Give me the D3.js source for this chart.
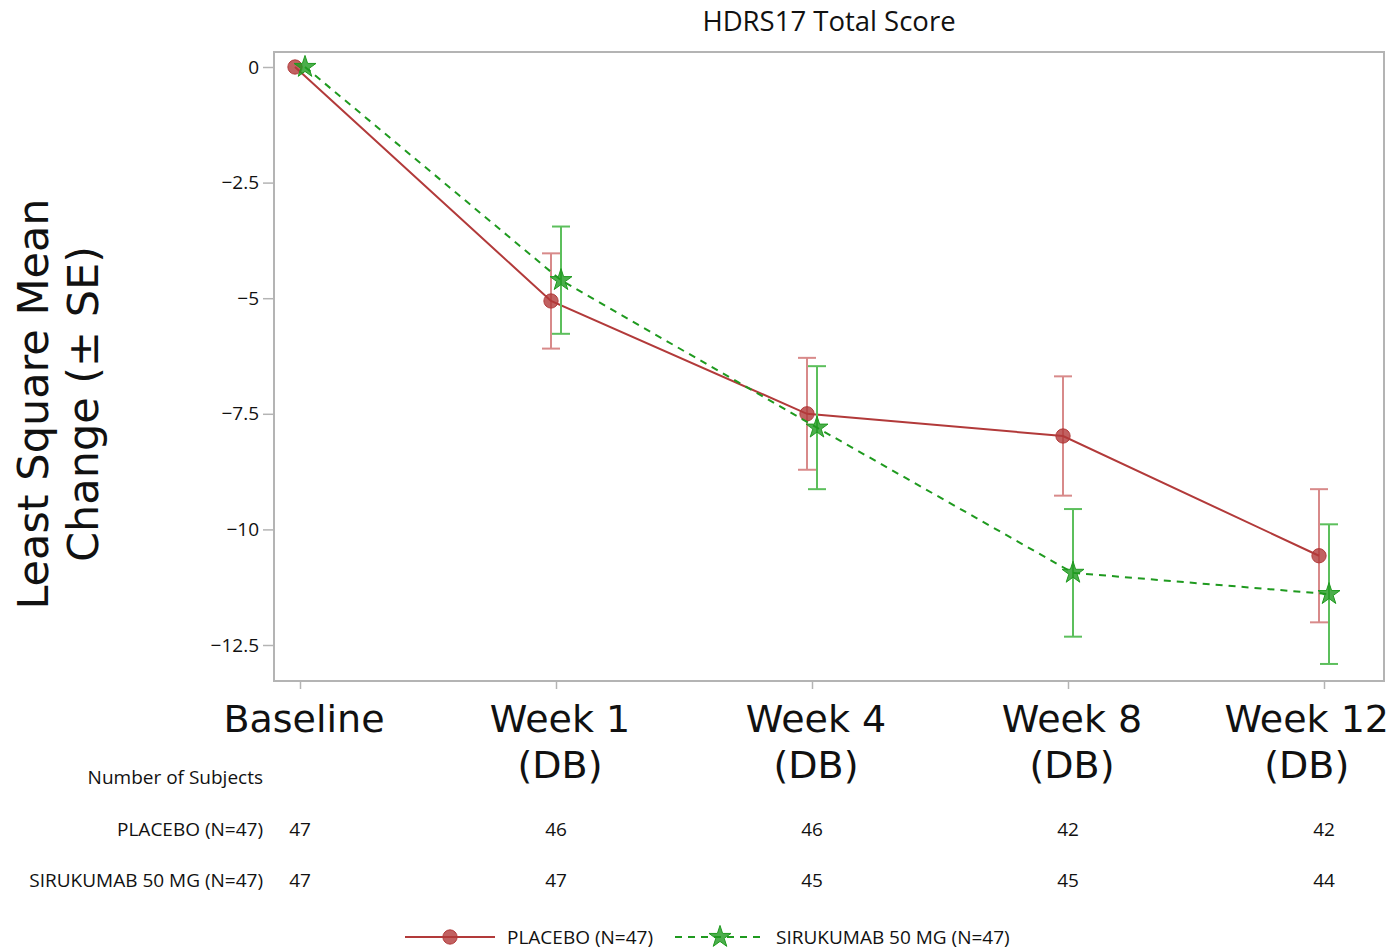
<!DOCTYPE html>
<html>
<head>
<meta charset="utf-8">
<script src="https://cdn.jsdelivr.net/npm/d3@7"></script>
<style>
  body { margin: 0; background: #fff; }
  svg text { fill: #111; }
</style>
</head>
<body>
<svg id="chart" width="1392" height="950"></svg>
<script>
const visits = ['Baseline', 'Week 1\n(DB)', 'Week 4\n(DB)', 'Week 8\n(DB)', 'Week 12\n(DB)'];
const placeboMean = [0, -5.06, -7.5, -7.98, -10.57];
const placeboSE = [0, 1.03, 1.21, 1.29, 1.44];
const siruMean = [0, -4.61, -7.8, -10.94, -11.4];
const siruSE = [0, 1.16, 1.33, 1.38, 1.51];
const yTicks = [0, -2.5, -5, -7.5, -10, -12.5];
const placeboN = [47, 46, 46, 42, 42];
const siruN = [47, 47, 45, 45, 44];
const groupNames = ['PLACEBO (N=47)', 'SIRUKUMAB 50 MG (N=47)'];

const red = '#b23a3a', redLight = '#d88a8a';
const green = '#1f9a1f', greenLight = '#5cbf5c';
const narrow = "'Liberation Sans Narrow', 'Open Sans', sans-serif";
const big = "'DejaVu Sans', Verdana, sans-serif";

const svg = d3.select('#chart');
const frame = {left: 274, right: 1384, top: 52, bottom: 681};

const x = d3.scalePoint().domain(visits).range([300, 1324]);
const y = d3.scaleLinear().domain([-12.5, 0]).range([645, 67]);
const off = 5;

// title
svg.append('text').attr('x', 829).attr('y', 31).attr('text-anchor', 'middle')
  .style('font-family', narrow).style('font-size', '27.5px').text('HDRS17 Total Score');

// frame
svg.append('rect').attr('x', frame.left).attr('y', frame.top)
  .attr('width', frame.right - frame.left).attr('height', frame.bottom - frame.top)
  .attr('fill', 'none').attr('stroke', '#b4b4b4').attr('stroke-width', 2);

// y axis
const yAxis = svg.append('g').attr('transform', `translate(${frame.left},0)`)
  .call(d3.axisLeft(y).tickValues(yTicks).tickSize(11).tickPadding(4)
    .tickFormat(d => d3.format('')(d).replace('-', '\u2212')));
yAxis.select('.domain').remove();
yAxis.selectAll('line').attr('stroke', '#b4b4b4').attr('stroke-width', 1.5);
yAxis.selectAll('text').style('font-family', narrow).style('font-size', '19px').attr('fill', '#111');

// x axis
const xAxis = svg.append('g').attr('transform', `translate(0,${frame.bottom})`)
  .call(d3.axisBottom(x).tickSize(8).tickFormat(''));
xAxis.select('.domain').remove();
xAxis.selectAll('line').attr('stroke', '#b4b4b4').attr('stroke-width', 1.5);
visits.forEach(v => {
  const lines = v.split('\n');
  const t = svg.append('text').attr('y', 732).attr('text-anchor', 'middle')
    .style('font-family', big).style('font-size', '38px');
  const spans = lines.map((l, i) => t.append('tspan').attr('x', x(v) + 4).attr('dy', i ? 46 : 0).text(l));
  const bb = t.node().getBBox();
  const over = bb.x + bb.width - 1389;
  if (over > 0) spans.forEach(s => s.attr('x', x(v) + 4 - over));
});

// y label
const yl = svg.append('text').attr('transform', 'translate(48,404) rotate(-90)')
  .attr('text-anchor', 'middle').style('font-family', big).style('font-size', '43px');
yl.append('tspan').attr('x', 0).attr('dy', 0).text('Least Square Mean');
yl.append('tspan').attr('x', 0).attr('dy', 50).text('Change (\u00b1 SE)');

const series = [
  {mean: placeboMean, se: placeboSE, dx: -off, color: red, light: redLight, dash: null, sym: d3.symbolCircle, size: 160},
  {mean: siruMean, se: siruSE, dx: off, color: green, light: greenLight, dash: '7,6', sym: d3.symbolStar, size: 150}
];

series.forEach(s => {
  const pts = visits.map((v, i) => ({v, m: s.mean[i], se: s.se[i]}));
  const g = svg.append('g');
  // error bars
  pts.filter(p => p.se > 0).forEach(p => {
    const cx = x(p.v) + s.dx;
    g.append('line').attr('x1', cx).attr('x2', cx).attr('y1', y(p.m + p.se)).attr('y2', y(p.m - p.se))
      .attr('stroke', s.light).attr('stroke-width', 2);
    [p.m + p.se, p.m - p.se].forEach(e => {
      g.append('line').attr('x1', cx - 9).attr('x2', cx + 9).attr('y1', y(e)).attr('y2', y(e))
        .attr('stroke', s.light).attr('stroke-width', 2);
    });
  });
  const line = d3.line().x(p => x(p.v) + s.dx).y(p => y(p.m));
  g.append('path').datum(pts).attr('d', line).attr('fill', 'none')
    .attr('stroke', s.color).attr('stroke-width', 2).attr('stroke-dasharray', s.dash);
  g.selectAll('path.mk').data(pts).join('path').attr('class', 'mk')
    .attr('transform', p => `translate(${x(p.v) + s.dx},${y(p.m)})`)
    .attr('d', d3.symbol(s.sym, s.size)).attr('fill', s.color).attr('fill-opacity', 0.8)
    .attr('stroke', s.color).attr('stroke-width', 1);
});

// number of subjects table
svg.append('text').attr('x', 263).attr('y', 784).attr('text-anchor', 'end')
  .style('font-family', narrow).style('font-size', '19px').text('Number of Subjects');
[placeboN, siruN].forEach((ns, r) => {
  const yy = 836 + r * 51;
  svg.append('text').attr('x', 263).attr('y', yy).attr('text-anchor', 'end')
    .style('font-family', narrow).style('font-size', '19px').text(groupNames[r]);
  ns.forEach((n, i) => {
    svg.append('text').attr('x', x(visits[i])).attr('y', yy).attr('text-anchor', 'middle')
      .style('font-family', narrow).style('font-size', '19px').text(n);
  });
});

// legend
const leg = [{x0: 405, tx: 507}, {x0: 675, tx: 776}];
series.forEach((s, i) => {
  const lg = svg.append('g');
  lg.append('line').attr('x1', leg[i].x0).attr('x2', leg[i].x0 + 90).attr('y1', 937).attr('y2', 937)
    .attr('stroke', s.color).attr('stroke-width', 2).attr('stroke-dasharray', s.dash);
  lg.append('path').attr('transform', `translate(${leg[i].x0 + 45},937)`)
    .attr('d', d3.symbol(s.sym, s.size)).attr('fill', s.color).attr('fill-opacity', 0.8).attr('stroke', s.color);
  lg.append('text').attr('x', leg[i].tx).attr('y', 944)
    .style('font-family', narrow).style('font-size', '19px').text(groupNames[i]);
});
</script>
</body>
</html>
